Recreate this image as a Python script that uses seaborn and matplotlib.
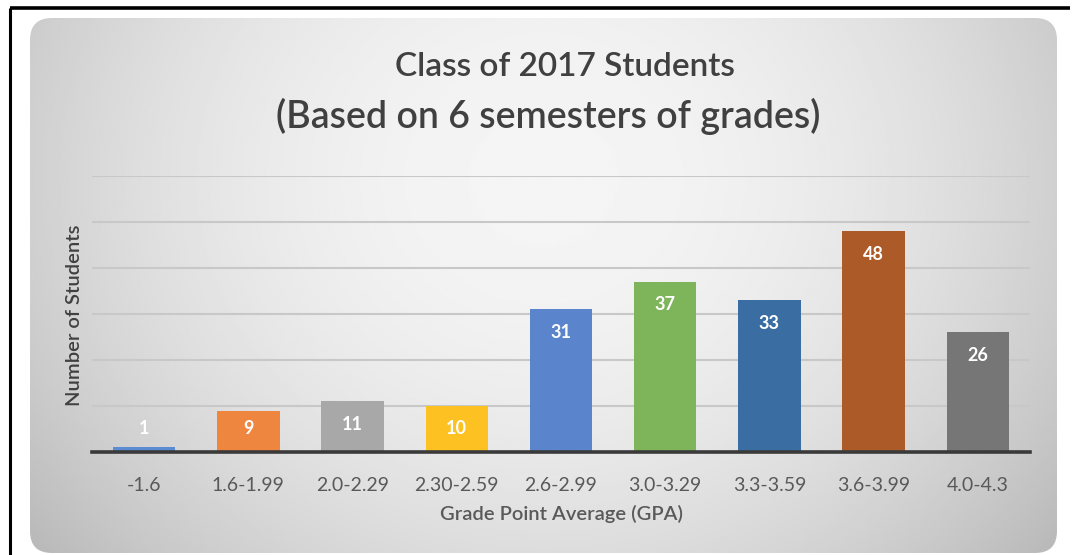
import numpy as np
import pandas as pd
import matplotlib
matplotlib.use("Agg")
import matplotlib.pyplot as plt
from matplotlib.patches import FancyBboxPatch
import seaborn as sns

categories = ["-1.6", "1.6-1.99", "2.0-2.29", "2.30-2.59", "2.6-2.99",
              "3.0-3.29", "3.3-3.59", "3.6-3.99", "4.0-4.3"]
students = [1, 9, 11, 10, 31, 37, 33, 48, 26]
bar_colors = ["#5B8BD0", "#EE8640", "#A8A8A8", "#FDC221", "#5A84CB",
              "#7EB55A", "#3A6EA3", "#AC5A27", "#767676"]
title_lines = ["Class of 2017 Students", "(Based on 6 semesters of grades)"]
ylabel = "Number of Students"
xlabel = "Grade Point Average (GPA)"

W, H = 1073, 555
sns.set_theme(style="white")
plt.rcParams['font.family'] = ['Lato', 'DejaVu Sans']

fig = plt.figure(figsize=(W / 100, H / 100), dpi=100)
fig.patch.set_facecolor("white")

# background panel
bg = fig.add_axes([0, 0, 1, 1])
bg.set_xlim(0, W)
bg.set_ylim(H, 0)
bg.axis("off")
px0, px1, py0, py1 = 30, 1057, 18, 553
yy, xx = np.mgrid[0:200, 0:400]
nx = (xx / 399.0 - 0.5) * 2
ny = (yy / 199.0 - 0.3) * 2
r2 = nx ** 2 * 0.9 + ny ** 2 * 0.3
grad = np.clip(0.96 - 0.16 * r2, 0, 1)
img = bg.imshow(grad, cmap="gray", vmin=0, vmax=1,
                extent=[px0, px1, py1, py0], aspect="auto", zorder=1,
                interpolation="bilinear")
panel = FancyBboxPatch((px0 + 22, py0 + 22), (px1 - px0) - 44, (py1 - py0) - 44,
                       boxstyle="round,pad=22", facecolor="none", edgecolor="none",
                       transform=bg.transData)
bg.add_patch(panel)
img.set_clip_path(panel)
bg.plot([10, 1070], [8, 8], color="black", lw=2.6, solid_capstyle="butt", zorder=5)
bg.plot([10, 10], [8, H], color="black", lw=2.2, solid_capstyle="butt", zorder=5)

# main axes
left, right = 92, 1030
base, top = 452, 176
ax = fig.add_axes([left / W, 1 - base / H, (right - left) / W, (base - top) / H])
ax.set_facecolor("none")
df = pd.DataFrame({"gpa": categories, "n": students})
sns.barplot(data=df, x="gpa", y="n", hue="gpa", palette=bar_colors,
            order=categories, hue_order=categories, legend=False,
            width=0.6, saturation=1, linewidth=0, ax=ax, zorder=3)
ax.set_ylim(0, 60)
ax.set_xlim(-0.5, len(categories) - 0.5)
ax.set_yticks([10, 20, 30, 40, 50, 60])
ax.set_yticklabels([])
ax.yaxis.grid(True, color="#c8c8c8", lw=1.5, zorder=0)
ax.set_axisbelow(True)
for s in ["left", "right", "top"]:
    ax.spines[s].set_visible(False)
ax.spines["bottom"].set_color("#3a3a3a")
ax.spines["bottom"].set_linewidth(2.6)
ax.spines["bottom"].set_zorder(6)
ax.tick_params(axis="both", length=0)
ax.tick_params(axis="x", pad=18, labelsize=14, labelcolor="#595959")
ax.set_xlabel("")
ax.set_ylabel("")

for i, v in enumerate(students):
    ax.text(i, max(v - 5, 5.1), str(v), ha="center", va="center",
            color="white", fontsize=13, fontweight="bold", zorder=7)

# texts
fig.text(565 / W, 1 - 76 / H, title_lines[0], ha="center", va="baseline",
         fontsize=24, color="#404040", fontweight="semibold")
fig.text(548 / W, 1 - 128 / H, title_lines[1], ha="center", va="baseline",
         fontsize=27, color="#404040", fontweight="semibold")
fig.text(75 / W, 1 - 315 / H, ylabel, ha="center", va="center", rotation=90,
         fontsize=14.5, color="#404040", fontweight="semibold")
fig.text(561 / W, 1 - 514 / H, xlabel, ha="center", va="center",
         fontsize=14.5, color="#595959", fontweight="semibold")

fig.savefig("out.png", dpi=100)
